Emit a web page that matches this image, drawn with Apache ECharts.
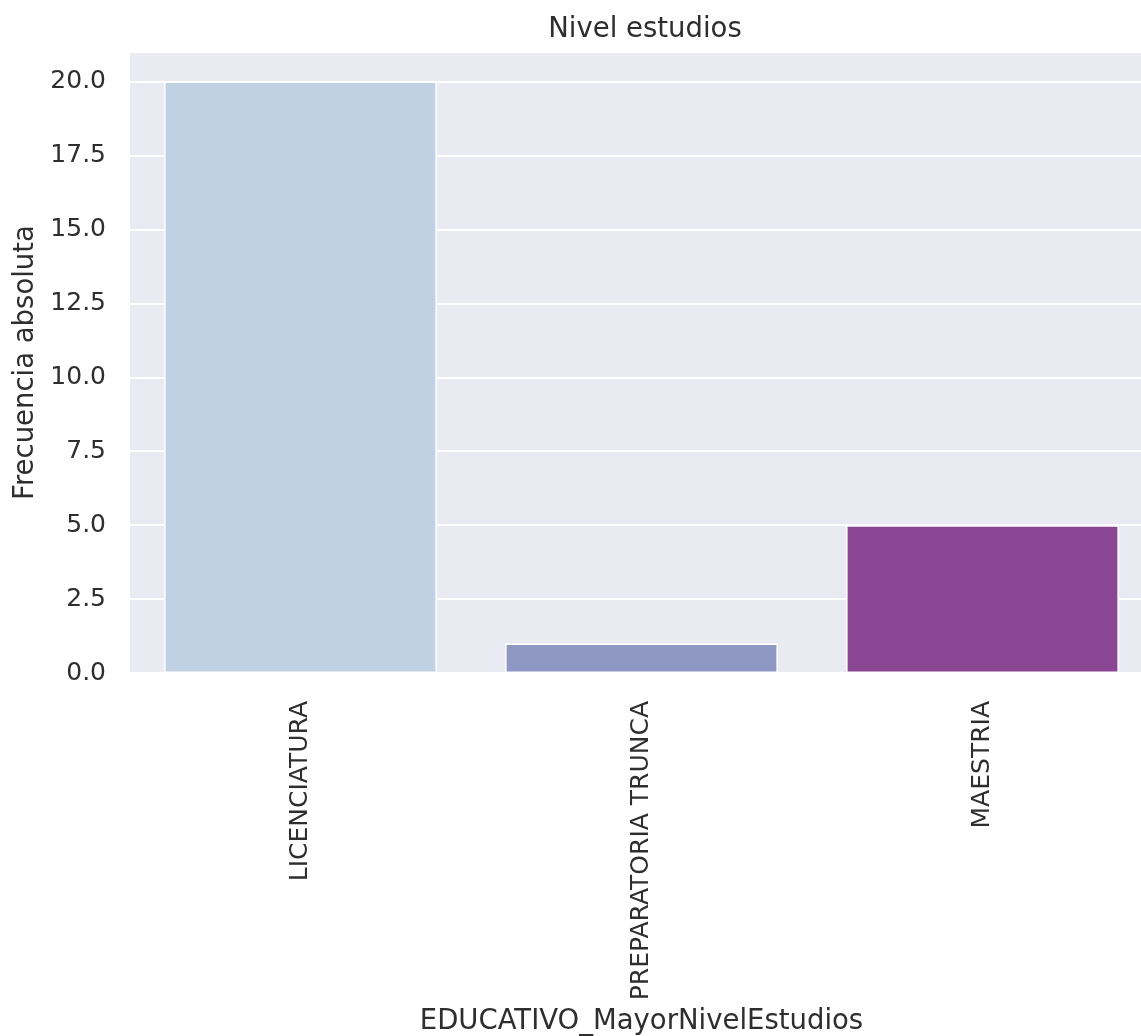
<!DOCTYPE html>
<html>
<head>
<meta charset="utf-8">
<title>Nivel estudios</title>
<script src="https://cdn.jsdelivr.net/npm/echarts@6/dist/echarts.min.js"></script>
<style>
  html, body { margin: 0; padding: 0; background: #ffffff; }
  #chart { width: 1141px; height: 1036px; }
</style>
</head>
<body>
<div id="chart"></div>
<script>
// Highest education level: absolute frequency per category
const categories = ['LICENCIATURA', 'PREPARATORIA TRUNCA', 'MAESTRIA'];
const counts = [20, 1, 5];
const barColors = ['#BFD1E2', '#8F98C3', '#8A4593'];
const yTicks = [0, 2.5, 5, 7.5, 10, 12.5, 15, 17.5, 20];

const FONT = '"DejaVu Sans", sans-serif';
const TEXT = '#2e2e2e';

const chart = echarts.init(document.getElementById('chart'), null, { renderer: 'canvas' });

chart.setOption({
  animation: false,
  backgroundColor: '#ffffff',
  title: {
    text: 'Nivel estudios',
    left: 640,
    top: 11,
    textAlign: 'center',
    textStyle: { fontFamily: FONT, fontSize: 27.5, fontWeight: 'normal', color: TEXT }
  },
  grid: {
    left: 130,
    right: -12,
    top: 52,
    bottom: 363,
    containLabel: false,
    outerBoundsMode: 'none',
    show: true,
    backgroundColor: '#EAEAF2',
    borderWidth: 0
  },
  xAxis: {
    type: 'category',
    data: categories,
    name: 'EDUCATIVO_MayorNivelEstudios',
    nameLocation: 'middle',
    nameGap: 333,
    nameTextStyle: { fontFamily: FONT, fontSize: 27.5, color: TEXT },
    axisLine: { show: false },
    axisTick: { show: false },
    splitLine: { show: false },
    axisLabel: {
      rotate: 90,
      margin: 28,
      interval: 0,
      fontFamily: FONT,
      fontSize: 25,
      color: TEXT
    }
  },
  yAxis: {
    type: 'value',
    min: 0,
    max: 21,
    interval: 2.5,
    name: 'Frecuencia absoluta',
    nameLocation: 'middle',
    nameRotate: 90,
    nameGap: 90,
    nameTextStyle: { fontFamily: FONT, fontSize: 27.5, color: TEXT },
    axisLine: { show: false },
    axisTick: { show: false },
    splitLine: {
      show: true,
      lineStyle: { color: '#ffffff', width: 2 }
    },
    axisLabel: {
      margin: 24,
      fontFamily: FONT,
      fontSize: 25,
      color: TEXT,
      showMaxLabel: false,
      formatter: function (v) {
        return yTicks.indexOf(v) >= 0 ? v.toFixed(1) : '';
      }
    }
  },
  series: [{
    type: 'bar',
    barWidth: '80%',
    data: counts.map(function (v, i) {
      return { value: v, itemStyle: { color: barColors[i] } };
    }),
    itemStyle: { borderColor: '#ffffff', borderWidth: 1.5 }
  }]
});
</script>
</body>
</html>
